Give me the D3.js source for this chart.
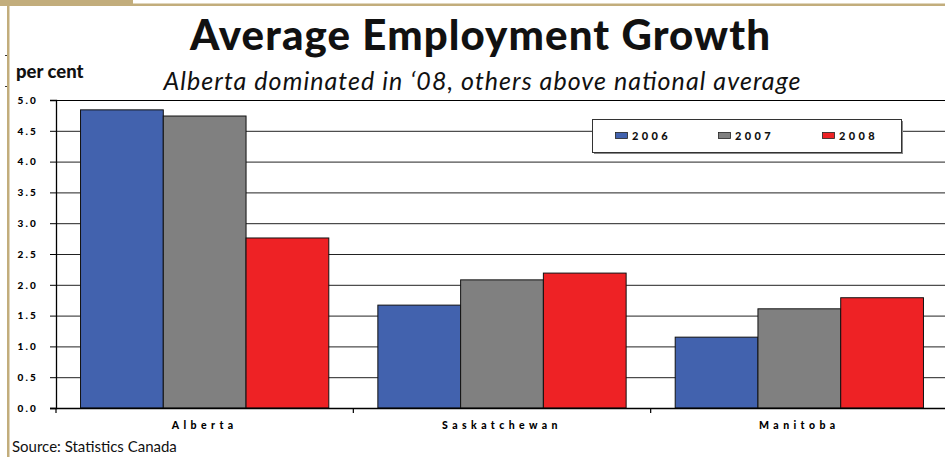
<!DOCTYPE html>
<html><head><meta charset="utf-8">
<script src="https://cdn.jsdelivr.net/npm/d3@7"></script>
<style>body{margin:0;background:#fff;}svg{display:block;}</style>
</head><body>
<svg id="c" width="945" height="457"></svg>
<script>
const categories = ["Alberta", "Saskatchewan", "Manitoba"];
const years = ["2006", "2007", "2008"];
const values2006 = [4.84, 1.67, 1.15];
const values2007 = [4.74, 2.08, 1.61];
const values2008 = [2.76, 2.19, 1.79];
const yTickValues = [0, 0.5, 1, 1.5, 2, 2.5, 3, 3.5, 4, 4.5, 5];
const colors = ["#4262AE", "#808080", "#EE2225"];
const title = "Average Employment Growth";
const subtitle = "Alberta dominated in \u201808, others above national average";
const yLabel = "per cent";
const source = "Source: Statistics Canada";

const series = [values2006, values2007, values2008];
const svg = d3.select("#c");
const tan = "#C2AD7C";

// decorative frame
svg.append("rect").attr("x",0).attr("y",0).attr("width",133).attr("height",6).attr("fill",tan);
svg.append("rect").attr("x",133).attr("y",3.5).attr("width",812).attr("height",2.5).attr("fill",tan);
svg.append("rect").attr("x",7).attr("y",6).attr("width",2.5).attr("height",451).attr("fill",tan);
svg.append("g").selectAll("line").data([55, 86]).join("line")
  .attr("x1",5).attr("x2",7).attr("y1",d=>d+0.5).attr("y2",d=>d+0.5).attr("stroke","#333").attr("stroke-width",1);

const m = {left:56, top:100, right:948, bottom:408};
const x0 = d3.scaleBand().domain(categories).range([m.left, m.right]).paddingInner(0.165).paddingOuter(0.0825);
const x1 = d3.scaleBand().domain(years).range([0, x0.bandwidth()]);
const y = d3.scaleLinear().domain([0,5]).range([m.bottom, m.top]);

// gridlines
svg.append("g").selectAll("line").data(yTickValues.filter(d=>d>0)).join("line")
  .attr("x1", m.left).attr("x2", 945).attr("y1", d=>y(d)+0.5).attr("y2", d=>y(d)+0.5)
  .attr("stroke", "#222").attr("stroke-width", 1);

// legend box
const lg = svg.append("g");
lg.append("rect").attr("x",594).attr("y",121).attr("width",309).attr("height",33).attr("fill","#888");
lg.append("rect").attr("x",592.5).attr("y",119.5).attr("width",309).attr("height",33).attr("fill","#fff").attr("stroke","#333").attr("stroke-width",1);
const legX = [615, 718, 822];
years.forEach((yr,i)=>{
  lg.append("rect").attr("x",legX[i]+0.5).attr("y",132.5).attr("width",12).attr("height",6).attr("fill",colors[i]).attr("stroke","#222").attr("stroke-width",0.8);
  lg.append("text").attr("x",legX[i]+17).attr("y",140).text(yr)
    .attr("font-family","Lato, sans-serif").attr("font-weight","900").attr("font-size",11).attr("letter-spacing","3.4px").attr("fill","#111");
});

// bars
const g = svg.append("g").selectAll("g").data(categories).join("g")
  .attr("transform", d=>`translate(${x0(d)},0)`);
g.selectAll("rect").data((d,ci)=>years.map((yr,si)=>({yr, v:series[si][ci], si}))).join("rect")
  .attr("x", d=>x1(d.yr)).attr("width", x1.bandwidth())
  .attr("y", d=>y(d.v)).attr("height", d=>y(0)-y(d.v))
  .attr("fill", d=>colors[d.si]).attr("stroke","#111").attr("stroke-width",1);

// y axis
const yAxis = d3.axisLeft(y).tickValues(yTickValues).tickSize(6).tickFormat(d3.format(".1f"));
const ya = svg.append("g").attr("transform",`translate(${m.left},0)`).call(yAxis);
ya.select(".domain").attr("stroke","#000").attr("stroke-width",1.3);
ya.selectAll(".tick line").attr("stroke","#000");
ya.selectAll(".tick text").attr("x",-18).attr("font-family","Lato, sans-serif").attr("font-weight","900")
  .attr("font-size",10).attr("letter-spacing","2.2px").attr("fill","#000");

// top border of plot
svg.append("line").attr("x1",m.left).attr("x2",945).attr("y1",m.top+0.5).attr("y2",m.top+0.5).attr("stroke","#000").attr("stroke-width",1.2);

// x axis
const xAxis = d3.axisBottom(x0).tickSize(0).tickPadding(12);
const xa = svg.append("g").attr("transform",`translate(0,${m.bottom})`).call(xAxis);
xa.select(".domain").remove();
svg.append("line").attr("x1",50).attr("x2",945).attr("y1",m.bottom+0.5).attr("y2",m.bottom+0.5).attr("stroke","#000").attr("stroke-width",1.3);
const bounds = categories.map(c=>x0(c) - x0.step()*x0.paddingInner()/2);
svg.append("g").selectAll("line").data(bounds).join("line")
  .attr("x1",d=>d).attr("x2",d=>d).attr("y1",m.bottom).attr("y2",m.bottom+5).attr("stroke","#000").attr("stroke-width",1.2);
xa.selectAll(".tick text").attr("font-family","Lato, sans-serif").attr("font-weight","900")
  .attr("font-size",10.5).attr("letter-spacing","4.4px").attr("fill","#000").attr("dy","0.9em");

// titles
svg.append("text").attr("x",480).attr("y",50).attr("text-anchor","middle").text(title)
  .attr("font-family","Lato, sans-serif").attr("font-weight","900").attr("font-size",42)
  .attr("textLength",580).attr("lengthAdjust","spacing").attr("fill","#111");
svg.append("text").attr("x",482).attr("y",90).attr("text-anchor","middle").text(subtitle)
  .attr("font-family","Lato, sans-serif").attr("font-style","italic").attr("font-size",25)
  .attr("textLength",637).attr("lengthAdjust","spacing").attr("fill","#111");
svg.append("text").attr("x",16).attr("y",78).text(yLabel)
  .attr("font-family","Lato, sans-serif").attr("font-weight","900").attr("font-size",18.5).attr("fill","#111");
svg.append("text").attr("x",12).attr("y",452).text(source)
  .attr("font-family","Lato, sans-serif").attr("font-size",15).attr("fill","#111");
</script>
</body></html>
